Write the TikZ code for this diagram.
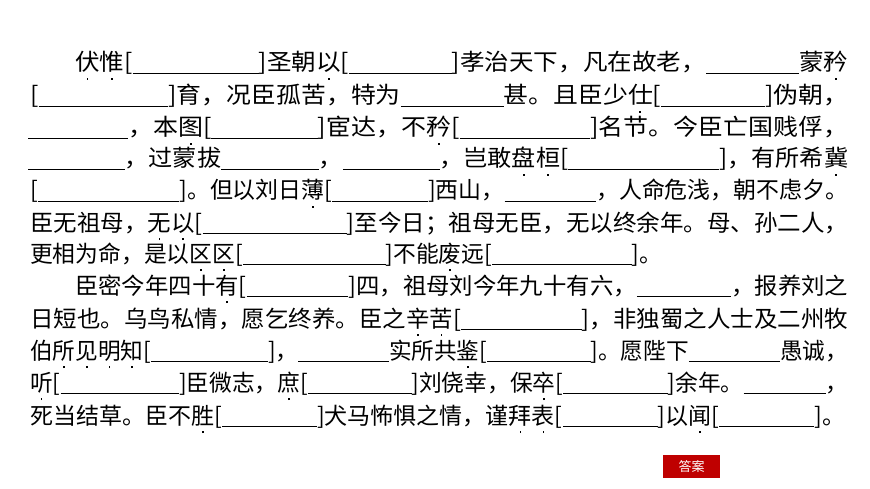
\documentclass[tikz,border=0pt]{standalone}
\usepackage{fontspec}
\usepackage{graphicx}
\newfontfamily\cjk{Noto Sans CJK SC}
\newcommand\bk[1]{[\rule[-3pt]{#1pt}{0.8pt}]}
\newcommand\ul[1]{\rule[-3pt]{#1pt}{0.8pt}}
\newcommand\dt[1]{\makebox[0pt][l]{\makebox[1em]{\raisebox{-9pt}{\rule{1.8pt}{1.8pt}}}}#1}
\newcommand\fitw[2]{\resizebox{#1pt}{\height}{#2}}
\tikzset{ln/.style={anchor=base west,inner sep=0pt,font=\cjk\fontsize{23}{23}\selectfont}}
\begin{document}
\begin{tikzpicture}[x=1pt,y=-1pt]
\useasboundingbox[fill=white] (0,0) rectangle (870,489);
\node[ln] (l1) at (75,71) {\fitw{773}{\dt{伏}\dt{惟}\bk{118}圣朝\dt{以}\bk{96}孝治天下，凡在故老，\ul{87}蒙\dt{矜}}};
\node[ln] (l2) at (30,104) {\fitw{818}{\bk{120}育，况臣孤苦，特为\ul{95}甚。且臣少\dt{仕}\bk{96}伪朝，}};
\node[ln] (l3) at (28,136) {\fitw{820}{\ul{92}，本\dt{图}\bk{98}宦达，不\dt{矜}\bk{120}名节。今臣亡国贱俘，}};
\node[ln] (l4) at (28,167) {\fitw{820}{\ul{92}，过蒙拔\ul{93}，\ul{92}，岂敢\dt{盘}\dt{桓}\bk{144}，有所希\dt{冀}}};
\node[ln] (l5) at (30,199) {\fitw{818}{\bk{142}。但以刘日\dt{薄}\bk{96}西山，\ul{92}，人命危浅，朝不虑夕。}};
\node[ln] (l6) at (30,231) {\fitw{818}{臣无祖母，\dt{无}\dt{以}\bk{141}至今日；祖母无臣，无以终余年。母、孙二人，}};
\node[ln] (l7) at (30,262) {\fitw{632}{更相为命，是以\dt{区}\dt{区}\bk{144}不能\dt{废}远\bk{141}。}};
\node[ln] (l8) at (75,294) {\fitw{773}{臣密今年四十\dt{有}\bk{100}四，祖母刘今年九十有六，\ul{93}，报养刘之}};
\node[ln] (l9) at (30,327) {\fitw{818}{日短也。乌鸟私情，愿乞终养。臣之\dt{辛}\dt{苦}\bk{118}，非独蜀之人士及二州牧}};
\node[ln] (l10) at (30,359) {\fitw{818}{伯\dt{所}\dt{见}\dt{明}\dt{知}\bk{119}，\ul{92}实所共\dt{鉴}\bk{105}。愿陛下\ul{93}愚诚，}};
\node[ln] (l11) at (30,391) {\fitw{818}{\dt{听}\bk{120}臣微志，\dt{庶}\bk{105}刘侥幸，保\dt{卒}\bk{106}余年。\ul{83}，}};
\node[ln] (l12) at (30,424) {\fitw{815}{死当结草。臣不\dt{胜}\bk{95}犬马怖惧之情，谨\dt{拜}\dt{表}\bk{95}以\dt{闻}\bk{95}。}};
\node[fill=red!75!black,text=white,font=\cjk\fontsize{13}{13}\selectfont,minimum width=57pt,minimum height=23pt,inner sep=0pt] (ans) at (691.5,466.5) {答案};
\end{tikzpicture}
\end{document}
